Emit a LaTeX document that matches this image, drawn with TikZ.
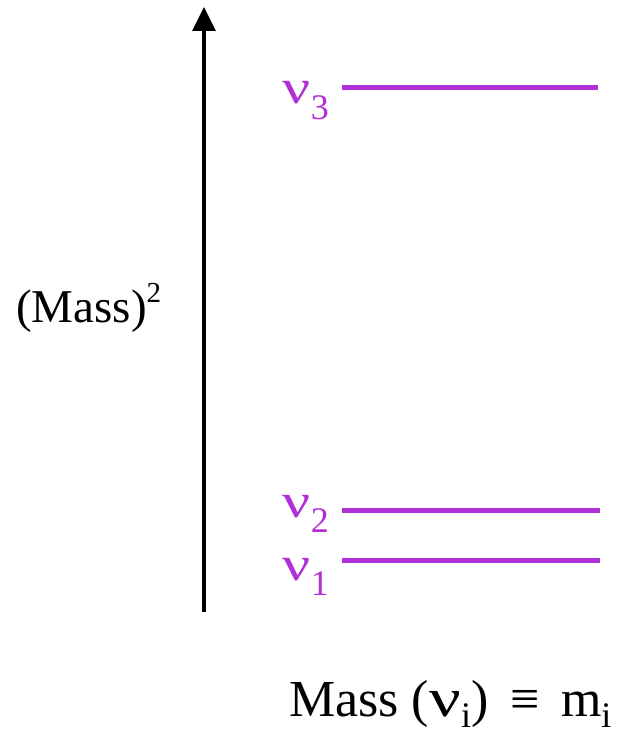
\documentclass[tikz,border=0pt]{standalone}
\usepackage{fontspec}
\setmainfont{Liberation Serif}
\usetikzlibrary{arrows.meta}
\definecolor{lvl}{RGB}{176,48,216}
\newcommand{\wnu}{\scalebox{1.35}[1.05]{ν}}
\newcommand{\lvlsub}[1]{\raisebox{-0.33em}{\fontsize{36}{36}\selectfont #1}}
\newcommand{\lowsub}[1]{\raisebox{-0.22em}{\fontsize{36}{36}\selectfont #1}}
\tikzset{
  level/.style={draw=lvl, line width=5pt},
  lvllabel/.style={text=lvl, anchor=base east, inner sep=0pt, font=\fontsize{46}{46}\selectfont},
  axislabel/.style={inner sep=0pt, anchor=base west}
}
\begin{document}
\begin{tikzpicture}[x=1pt,y=-1pt]
\useasboundingbox (0,0) rectangle (621,735);
\coordinate (a0) at (204,612);
\coordinate (a1) at (204,7);
\draw[line width=3.5pt, -{Triangle[width=23pt,length=24pt]}] (a0) -- (a1);
% levels
\coordinate (l3a) at (342,88); \coordinate (l3b) at (598,88);
\coordinate (l2a) at (342,510); \coordinate (l2b) at (600,510);
\coordinate (l1a) at (342,560); \coordinate (l1b) at (600,560);
\draw[level] (l3a) -- (l3b);
\draw[level] (l2a) -- (l2b);
\draw[level] (l1a) -- (l1b);
\node[lvllabel] (n3) at (329,104) {\wnu\lvlsub{3}};
\node[lvllabel] (n2) at (329,517) {\wnu\lvlsub{2}};
\node[lvllabel] (n1) at (329,580) {\wnu\lvlsub{1}};
\node[axislabel, font=\fontsize{47}{47}\selectfont] (ylab) at (16,322) {(Mass)\raisebox{0.42em}{\fontsize{29}{29}\selectfont 2}};
\node[axislabel, font=\fontsize{52}{52}\selectfont] (xlab) at (289,716) {Mass (\wnu\lowsub{i}) \,≡\, m\lowsub{i}};
\end{tikzpicture}
\end{document}
